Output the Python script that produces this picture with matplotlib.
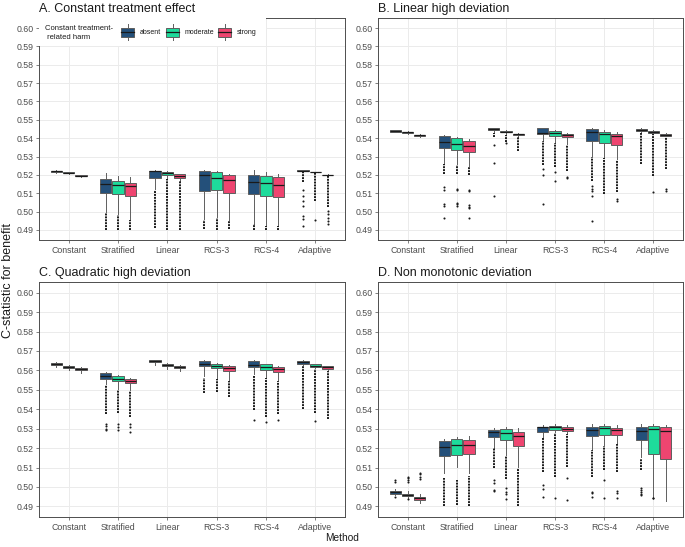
import matplotlib
matplotlib.use("Agg")
import matplotlib.pyplot as plt
from matplotlib.patches import Rectangle
from matplotlib.lines import Line2D

plt.rcParams['font.family'] = ['Liberation Sans', 'DejaVu Sans']

METHODS = ["Constant", "Stratified", "Linear", "RCS-3", "RCS-4", "Adaptive"]
HARM = ["absent", "moderate", "strong"]
COLORS = ["#24507a", "#1edb9b", "#ee4570"]
YTICKS = [0.49, 0.50, 0.51, 0.52, 0.53, 0.54, 0.55, 0.56, 0.57, 0.58, 0.59, 0.60]

# each box: (whisker low, q1, median, q3, whisker high); rows = methods, cols = harm level
A_box = [
    [(0.5212, 0.5216, 0.5219, 0.5221, 0.5224), (0.5207, 0.5210, 0.5212, 0.5214, 0.5216), (0.5191, 0.5194, 0.5196, 0.5198, 0.5200)],
    [(0.4996, 0.5102, 0.5151, 0.5175, 0.5211), (0.4987, 0.5095, 0.5145, 0.5165, 0.5196), (0.4960, 0.5084, 0.5138, 0.5158, 0.5187)],
    [(0.5124, 0.5182, 0.5220, 0.5222, 0.5225), (0.5178, 0.5198, 0.5211, 0.5216, 0.5220), (0.5169, 0.5185, 0.5196, 0.5204, 0.5207)],
    [(0.4960, 0.5113, 0.5198, 0.5222, 0.5225), (0.4969, 0.5116, 0.5182, 0.5213, 0.5220), (0.4956, 0.5100, 0.5171, 0.5198, 0.5205)],
    [(0.4933, 0.5095, 0.5162, 0.5202, 0.5225), (0.4924, 0.5087, 0.5155, 0.5196, 0.5216), (0.4924, 0.5080, 0.5144, 0.5187, 0.5204)],
    [(0.5218, 0.5220, 0.5222, 0.5224, 0.5226), (0.5211, 0.5213, 0.5215, 0.5216, 0.5218), (0.5196, 0.5198, 0.5200, 0.5202, 0.5204)],
]
# dense columns of outliers (low, high)
A_runs = [
    [None, None, None],
    [(0.4902, 0.4990), (0.4902, 0.4980), (0.4902, 0.4955)],
    [(0.4909, 0.5120), (0.4902, 0.5175), (0.4902, 0.5165)],
    [(0.4907, 0.4955), (0.4902, 0.4965), (0.4905, 0.4950)],
    [(0.4902, 0.4930), (0.4902, 0.4920), (0.4902, 0.4920)],
    [(0.5160, 0.5217), (0.5055, 0.5210), (0.5025, 0.5196)],
]
# single outliers
A_pts = [
    [[], [], []],
    [[], [], []],
    [[], [], []],
    [[], [], []],
    [[], [], []],
    [[0.5118, 0.5087, 0.5060, 0.5033, 0.4975, 0.4960, 0.4920], [0.4956], [0.5005, 0.4985, 0.4965, 0.4950, 0.4933]],
]

B_box = [
    [(0.5432, 0.5436, 0.5440, 0.5443, 0.5446), (0.5422, 0.5429, 0.5433, 0.5436, 0.5440), (0.5407, 0.5413, 0.5416, 0.5420, 0.5424)],
    [(0.5267, 0.5347, 0.5380, 0.5411, 0.5416), (0.5258, 0.5338, 0.5371, 0.5400, 0.5405), (0.5249, 0.5325, 0.5358, 0.5387, 0.5393)],
    [(0.5431, 0.5444, 0.5449, 0.5453, 0.5456), (0.5422, 0.5431, 0.5436, 0.5440, 0.5444), (0.5409, 0.5416, 0.5422, 0.5425, 0.5429)],
    [(0.5385, 0.5425, 0.5427, 0.5453, 0.5456), (0.5376, 0.5413, 0.5427, 0.5440, 0.5444), (0.5367, 0.5404, 0.5420, 0.5425, 0.5429)],
    [(0.5304, 0.5385, 0.5435, 0.5449, 0.5453), (0.5295, 0.5376, 0.5422, 0.5436, 0.5442), (0.5285, 0.5365, 0.5413, 0.5425, 0.5431)],
    [(0.5431, 0.5440, 0.5445, 0.5449, 0.5453), (0.5424, 0.5427, 0.5433, 0.5438, 0.5442), (0.5411, 0.5413, 0.5418, 0.5425, 0.5427)],
]
B_runs = [
    [None, None, None],
    [(0.5204, 0.5262), (0.5204, 0.5253), (0.5198, 0.5245)],
    [(0.5404, 0.5428), (0.5380, 0.5420), (0.5331, 0.5405)],
    [(0.5253, 0.5382), (0.5245, 0.5372), (0.5222, 0.5363)],
    [(0.5167, 0.5300), (0.5095, 0.5290), (0.5104, 0.5280)],
    [(0.5258, 0.5428), (0.5195, 0.5422), (0.5231, 0.5408)],
]
B_pts = [
    [[], [], []],
    [[0.5135, 0.5120, 0.5040, 0.5032, 0.4965], [0.5125, 0.5120, 0.5048, 0.5040, 0.5030], [0.5118, 0.5110, 0.5035, 0.5025, 0.5018, 0.4965]],
    [[0.5362, 0.5267, 0.5085], [0.5375], []],
    [[0.5231, 0.5198, 0.5040], [0.5218, 0.5165], [0.5190, 0.5182]],
    [[0.5140, 0.5125, 0.5110, 0.5085, 0.4949], [], [0.5067, 0.5060]],
    [[], [0.5107], [0.5125, 0.5113]],
]

C_box = [
    [(0.5619, 0.5629, 0.5633, 0.5638, 0.5645), (0.5600, 0.5614, 0.5619, 0.5622, 0.5627), (0.5586, 0.5602, 0.5607, 0.5610, 0.5617)],
    [(0.5528, 0.5555, 0.5571, 0.5585, 0.5590), (0.5506, 0.5545, 0.5555, 0.5569, 0.5574), (0.5497, 0.5533, 0.5547, 0.5557, 0.5562)],
    [(0.5626, 0.5641, 0.5646, 0.5651, 0.5655), (0.5609, 0.5624, 0.5629, 0.5634, 0.5638), (0.5595, 0.5612, 0.5617, 0.5622, 0.5626)],
    [(0.5570, 0.5624, 0.5631, 0.5648, 0.5651), (0.5560, 0.5610, 0.5621, 0.5631, 0.5636), (0.5550, 0.5597, 0.5610, 0.5621, 0.5626)],
    [(0.5583, 0.5617, 0.5629, 0.5646, 0.5651), (0.5565, 0.5603, 0.5617, 0.5631, 0.5634), (0.5550, 0.5591, 0.5605, 0.5617, 0.5624)],
    [(0.5626, 0.5634, 0.5643, 0.5648, 0.5651), (0.5612, 0.5617, 0.5624, 0.5631, 0.5634), (0.5602, 0.5609, 0.5615, 0.5621, 0.5624)],
]
C_runs = [
    [None, None, None],
    [(0.5377, 0.5523), (0.5380, 0.5500), (0.5360, 0.5492)],
    [None, None, None],
    [(0.5484, 0.5562), (0.5489, 0.5555), (0.5463, 0.5545)],
    [(0.5395, 0.5578), (0.5360, 0.5560), (0.5378, 0.5545)],
    [(0.5403, 0.5621), (0.5381, 0.5607), (0.5352, 0.5597)],
]
C_pts = [
    [[], [], []],
    [[0.5323, 0.5315, 0.5300, 0.5292], [0.5325, 0.5310, 0.5295], [0.5322, 0.5310, 0.5283]],
    [[], [], []],
    [[], [], []],
    [[0.5343], [0.5335], [0.5347]],
    [[], [0.5338], []],
]

D_box = [
    [(0.4959, 0.4966, 0.4972, 0.4977, 0.4988), (0.4942, 0.4954, 0.4960, 0.4966, 0.4980), (0.4919, 0.4933, 0.4942, 0.4948, 0.4962)],
    [(0.5070, 0.5160, 0.5206, 0.5235, 0.5247), (0.5104, 0.5165, 0.5218, 0.5247, 0.5257), (0.5070, 0.5170, 0.5218, 0.5244, 0.5262)],
    [(0.5198, 0.5256, 0.5285, 0.5293, 0.5305), (0.5163, 0.5244, 0.5278, 0.5297, 0.5308), (0.5104, 0.5211, 0.5262, 0.5283, 0.5305)],
    [(0.5257, 0.5283, 0.5307, 0.5310, 0.5320), (0.5283, 0.5295, 0.5309, 0.5315, 0.5322), (0.5274, 0.5288, 0.5300, 0.5309, 0.5317)],
    [(0.5189, 0.5262, 0.5295, 0.5309, 0.5322), (0.5215, 0.5269, 0.5303, 0.5314, 0.5322), (0.5223, 0.5269, 0.5295, 0.5303, 0.5320)],
    [(0.5155, 0.5240, 0.5288, 0.5309, 0.5322), (0.4950, 0.5172, 0.5297, 0.5312, 0.5326), (0.4925, 0.5143, 0.5288, 0.5307, 0.5317)],
]
D_runs = [
    [None, None, None],
    [(0.4900, 0.5044), (0.4908, 0.5036), (0.4900, 0.5055)],
    [(0.5095, 0.5198), (0.5040, 0.5160), (0.4902, 0.5100)],
    [(0.5078, 0.5255), (0.5053, 0.5280), (0.5104, 0.5270)],
    [(0.5053, 0.5189), (0.5087, 0.5212), (0.5078, 0.5220)],
    [(0.5087, 0.5146), None, None],
]
D_pts = [
    [[0.5035, 0.5023, 0.4950], [0.5053, 0.5045, 0.5035, 0.5027, 0.4938], [0.5073, 0.5065, 0.5050, 0.5039]],
    [[], [], []],
    [[0.5036, 0.5020, 0.4985, 0.4980], [0.4995, 0.4972, 0.4965, 0.4940], []],
    [[0.5010, 0.4988, 0.4950], [0.4942], [0.5044, 0.4933]],
    [[0.4975, 0.4968, 0.4950], [0.5035, 0.4942], [0.4980, 0.4967, 0.4942]],
    [[0.4995, 0.4985, 0.4975, 0.4965, 0.4959], [0.4945, 0.4942], []],
]

OFFSETS = [-0.25, 0.0, 0.25]
EDGE = "#5e5e5e"

fig = plt.figure(figsize=(6.85, 5.47), dpi=100)

panels = [
    ("A. Constant treatment effect", A_box, A_runs, A_pts, [0.0569, 0.5612, 0.4467, 0.4059]),
    ("B. Linear high deviation", B_box, B_runs, B_pts, [0.5518, 0.5612, 0.4453, 0.4059]),
    ("C. Quadratic high deviation", C_box, C_runs, C_pts, [0.0569, 0.0548, 0.4467, 0.4296]),
    ("D. Non monotonic deviation", D_box, D_runs, D_pts, [0.5518, 0.0548, 0.4453, 0.4296]),
]

axes = []
for title, boxes, runs, pts, rect in panels:
    ax = fig.add_axes(rect)
    axes.append(ax)
    ax.set_xlim(0.4, 6.6)
    ax.set_ylim(0.4845, 0.6055)
    ax.set_yticks(YTICKS)
    ax.set_yticklabels([f"{t:.2f}" for t in YTICKS])
    ax.set_xticks(range(1, 7))
    ax.set_xticklabels(METHODS)
    ax.grid(color="#ebebeb", linewidth=0.7)
    ax.set_axisbelow(True)
    for s in ax.spines.values():
        s.set_color("#4d4d4d")
        s.set_linewidth(0.7)
    ax.tick_params(colors="#4d4d4d", labelcolor="#4d4d4d", labelsize=6.3,
                   length=2.5, width=0.5, pad=1.5)
    ax.set_title(title, loc="left", fontsize=9, pad=4.5, color="#1a1a1a")

    for h in range(3):
        stats = []
        for m in range(6):
            b = boxes[m][h]
            stats.append(dict(whislo=b[0], q1=b[1], med=b[2], q3=b[3], whishi=b[4],
                              fliers=pts[m][h]))
        pos = [m + 1 + OFFSETS[h] for m in range(6)]
        ax.bxp(stats, positions=pos, widths=0.23, patch_artist=True, showcaps=False,
               manage_ticks=False,
               boxprops=dict(facecolor=COLORS[h], edgecolor=EDGE, linewidth=0.7),
               whiskerprops=dict(color=EDGE, linewidth=0.7),
               medianprops=dict(color="#1a1a1a", linewidth=0.9),
               flierprops=dict(marker="o", markersize=1.5, markerfacecolor="#1a1a1a",
                               markeredgecolor="none"))
        for m in range(6):
            r = runs[m][h]
            if r:
                ax.vlines(m + 1 + OFFSETS[h], r[0], r[1], colors="#1a1a1a",
                          linewidth=1.4, linestyles=(0, (1, 0.5)), zorder=3)

# legend inside panel A, ggplot style
ax = axes[0]
W, H, X0, Y0 = 306.0, 222.0, 39.0, 18.0


def fx(px):
    return (px - X0) / W


def fy(py):
    return 1 - (py - Y0) / H


ax.add_patch(Rectangle((0, fy(46)), fx(266), 1 - fy(46), transform=ax.transAxes,
                       facecolor="white", edgecolor="none", zorder=4))
ax.text(fx(45), fy(29), "Constant treatment-", transform=ax.transAxes, fontsize=5.5,
        va="center", ha="left", color="#1a1a1a", zorder=5)
ax.text(fx(45), fy(37.5), " related harm", transform=ax.transAxes, fontsize=5.5,
        va="center", ha="left", color="#1a1a1a", zorder=5)
key_x = [121, 166, 218]
for h in range(3):
    x0 = key_x[h]
    xc = x0 + 6.7
    ax.add_line(Line2D([fx(xc), fx(xc)], [fy(24.5), fy(40.5)], transform=ax.transAxes,
                       color=EDGE, linewidth=0.7, zorder=5))
    ax.add_patch(Rectangle((fx(x0), fy(37)), 13.4 / W, 9 / H, transform=ax.transAxes,
                           facecolor=COLORS[h], edgecolor=EDGE, linewidth=0.7, zorder=6))
    ax.add_line(Line2D([fx(x0), fx(x0 + 13.4)], [fy(32.5), fy(32.5)], transform=ax.transAxes,
                       color="#1a1a1a", linewidth=0.9, zorder=7))
    ax.text(fx(x0 + 18.5), fy(33), HARM[h], transform=ax.transAxes, fontsize=5,
            va="center", ha="left", color="#1a1a1a", zorder=5)

fig.text(0.012, 1 - 280 / 547, "C-statistic for benefit", rotation=90, fontsize=9,
         va="center", ha="center", color="#1a1a1a")
fig.text(0.5, 1 - 538 / 547, "Method", fontsize=7.3, va="center", ha="center",
         color="#1a1a1a")

fig.savefig("out.png", dpi=100)
